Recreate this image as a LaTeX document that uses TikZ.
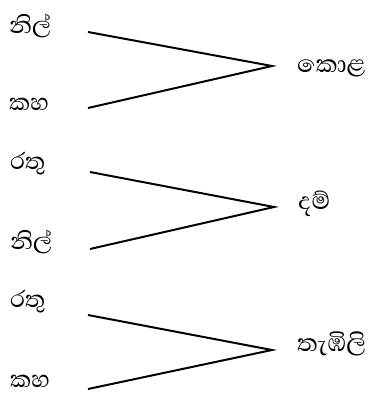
\documentclass[tikz,border=0pt]{standalone}
\usepackage{fontspec}
\newfontfamily\sinhalafont[Script=Sinhala]{Abhaya Libre}
\usepackage{tikz}
\usetikzlibrary{positioning, calc}
\tikzset{
    % Colour name on the left
    mix in/.style={
        font=\sinhalafont\fontsize{30}{34}\selectfont,
        anchor=west,
        inner sep=0pt,
    },
    % Resulting colour on the right
    mix out/.style={
        font=\sinhalafont\fontsize{31}{34}\selectfont,
        anchor=west,
        inner sep=0pt,
    },
    % Joining lines
    join line/.style={
        line width=2pt,
        draw=black,
    },
}
\begin{document}
\begin{tikzpicture}[x=1bp, y=-1bp]
    \useasboundingbox (0,0) rectangle (374,396);

    % first mix
    \node (blueA) [mix in] at (9,26) {නිල්};
    \node (yellowA) [mix in] at (9,104) {කහ};
    \node (green) [mix out] at (297,68) {කොළ};
    \coordinate (startA1) at (88,32);
    \coordinate (startA2) at (88,108);
    \coordinate (meetA) at (272,66);

    % second mix
    \node (redB) [mix in] at (10,164) {රතු};
    \node (blueB) [mix in] at (10,242) {නිල්};
    \node (purple) [mix out] at (298,204) {දම්};
    \coordinate (startB1) at (90,172);
    \coordinate (startB2) at (90,249);
    \coordinate (meetB) at (274,207);

    % third mix
    \node (redC) [mix in] at (10,302) {රතු};
    \node (yellowC) [mix in] at (10,381) {කහ};
    \node (orange) [mix out] at (297,344) {තැඹිලි};
    \coordinate (startC1) at (88,315);
    \coordinate (startC2) at (88,389);
    \coordinate (meetC) at (272,350);

    \draw [join line] (startA1) -- (meetA) -- (startA2);
    \draw [join line] (startB1) -- (meetB) -- (startB2);
    \draw [join line] (startC1) -- (meetC) -- (startC2);
\end{tikzpicture}
\end{document}
